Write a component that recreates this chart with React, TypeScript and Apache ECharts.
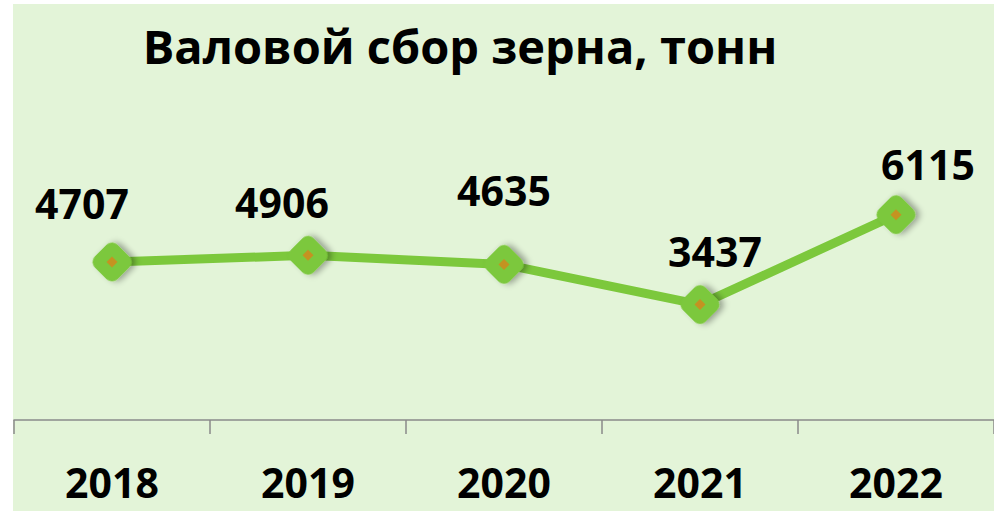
import React, { useEffect, useRef } from "react";
import * as echarts from "echarts";

const categories = ["2018", "2019", "2020", "2021", "2022"];
const values = [4707, 4906, 4635, 3437, 6115];
const labelOffsets: [number, number][] = [
  [-30, -59],
  [-26, -53],
  [0, -74],
  [15, -54],
  [32, -51],
];
const titleText = "Валовой сбор зерна, тонн";

export default function App() {
  const ref = useRef<HTMLDivElement>(null);
  useEffect(() => {
    if (!ref.current) return;
    const chart = echarts.init(ref.current, null, { renderer: "svg" });
    const font = "'Open Sans', 'Noto Sans', sans-serif";
    chart.setOption({
      animation: false,
      backgroundColor: "#ffffff",
      graphic: [
        {
          type: "rect",
          shape: { x: 13, y: 4, width: 990, height: 520 },
          style: { fill: "#E3F4D8" },
          z: -10,
        },
        {
          type: "text",
          x: 460,
          y: 46,
          style: {
            text: titleText,
            font: `bold 47px ${font}`,
            fill: "#000000",
            align: "center",
            verticalAlign: "middle",
          },
        },
      ],
      grid: { left: 14, right: 0, top: 185, bottom: 91 },
      xAxis: {
        type: "category",
        data: categories,
        boundaryGap: true,
        axisLine: { show: true, lineStyle: { color: "#8a8a8a", width: 1.5 } },
        axisTick: { show: true, length: 14, lineStyle: { color: "#8a8a8a", width: 1.5 } },
        axisLabel: {
          fontFamily: font,
          fontWeight: "bold",
          fontSize: 41,
          color: "#000000",
          margin: 41,
        },
      },
      yAxis: {
        type: "value",
        min: 0,
        max: 7000,
        show: false,
        splitLine: { show: false },
      },
      series: [
        {
          type: "line",
          data: values.map((v, i) => ({
            value: v,
            label: { offset: labelOffsets[i] },
          })),
          lineStyle: { color: "#7CC83C", width: 9 },
          symbol: "roundRect",
          symbolSize: 32,
          symbolRotate: 45,
          itemStyle: {
            color: "#7CC83C",
            shadowBlur: 6,
            shadowOffsetX: 3,
            shadowOffsetY: 3,
            shadowColor: "rgba(0,0,0,0.35)",
          },
          label: {
            show: true,
            position: "inside",
            fontFamily: font,
            fontWeight: "bold",
            fontSize: 41,
            color: "#000000",
            align: "center",
            verticalAlign: "middle",
          },
          z: 2,
        },
        {
          type: "scatter",
          data: values,
          symbol: "diamond",
          symbolSize: 11,
          itemStyle: { color: "#D6861A" },
          z: 3,
          silent: true,
        },
      ],
    });
    return () => chart.dispose();
  }, []);
  return (
    <div
      ref={ref}
      style={{ position: "fixed", left: 0, top: 0, width: 994, height: 511 }}
    />
  );
}
